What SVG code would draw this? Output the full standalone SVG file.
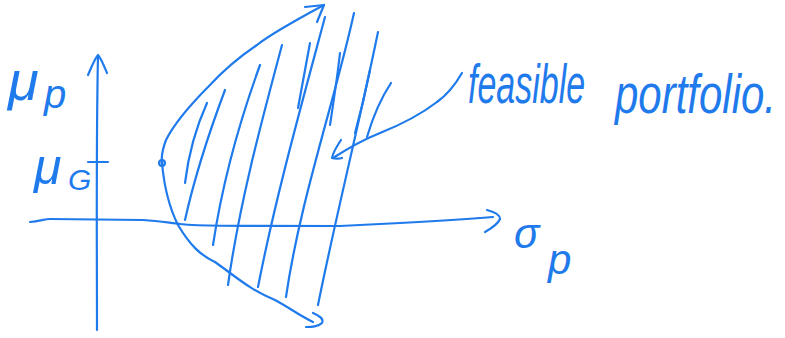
<svg xmlns="http://www.w3.org/2000/svg" width="785" height="338" viewBox="0 0 785 338">
<style>
.s{fill:none;stroke:#1f7aec;stroke-width:2.2;stroke-linecap:round;stroke-linejoin:round}
.t{fill:#1f7aec;font-family:"Liberation Sans",Arial,sans-serif;font-style:italic}
</style>
<rect width="785" height="338" fill="#fff"/>
<g id="axes">
<path class="s" d="M97,330 C97,250 96,150 98,56"/>
<path class="s" d="M88,75 C92,66 95,58 98,55 C101,58 104,66 107,73"/>
<path class="s" d="M88,162 L108,162"/>
<path class="s" d="M30,222 C40,221 45,219 50,219 L143,220 C160,221 170,223 180,224 C200,226 215,226 340,226 L400,223 C440,221 470,219 493,217"/>
<path class="s" d="M487,210 C495,212 500,215 500,219 C498,224 492,228 485,232"/>
</g>
<g id="frontier">
<path class="s" d="M324,5 C300,18 272,33 257,45 C235,60 222,72 210,85 C190,105 175,122 166,140 C163,148 161,156 162,163"/>
<path class="s" d="M305,7 L324,5 L317,22"/>
<path class="s" d="M162,163 C164,185 168,205 178,225 C190,245 200,255 215,262 C235,276 250,290 275,300 C290,308 300,316 313,322"/>
<path class="s" d="M313,313 C320,316 324,319 322,323 C318,327 312,327 306,327"/>
<circle cx="162" cy="163" r="3" fill="#1f7aec" fill-opacity="0.4" stroke="#1f7aec" stroke-width="2"/>
</g>
<g id="hatch">
<path class="s" d="M207,103 C197,125 189,150 185,183"/>
<path class="s" d="M225,90 C210,130 195,175 185,220"/>
<path class="s" d="M260,65 C240,120 222,185 213,245"/>
<path class="s" d="M282,45 C262,120 240,200 228,285"/>
<path class="s" d="M310,43 L298,108"/>
<path class="s" d="M325,17 C300,110 275,200 258,287"/>
<path class="s" d="M340,53 C337,80 333,105 330,125"/>
<path class="s" d="M354,13 C335,100 300,200 286,297"/>
<path class="s" d="M370,70 C365,95 360,115 355,133"/>
<path class="s" d="M378,32 C360,120 335,220 318,305"/>
<path class="s" d="M391,83 C383,95 375,110 367,137"/>
</g>
<g id="leader">
<path class="s" d="M462,73 C455,85 447,95 437,102 C420,115 400,125 380,133 C365,139 350,147 333,158"/>
<path class="s" d="M341,140 C337,146 333,152 332,158 C336,159 339,159 342,158"/>
</g>
<g id="labels">
<text class="t" x="8" y="100" font-size="56">μ</text>
<text class="t" x="44" y="108" font-size="40">p</text>
<text class="t" x="34" y="184" font-size="50">μ</text>
<text class="t" x="68" y="190" font-size="30">G</text>
<text class="t" transform="translate(468,103) scale(1,1.65)" font-size="34">feasible</text>
<text class="t" transform="translate(615,113) scale(1,1.3)" font-size="42">portfolio.</text>
<text class="t" x="514" y="248" font-size="42">σ</text>
<text class="t" x="548" y="274" font-size="42">p</text>
</g>
</svg>
